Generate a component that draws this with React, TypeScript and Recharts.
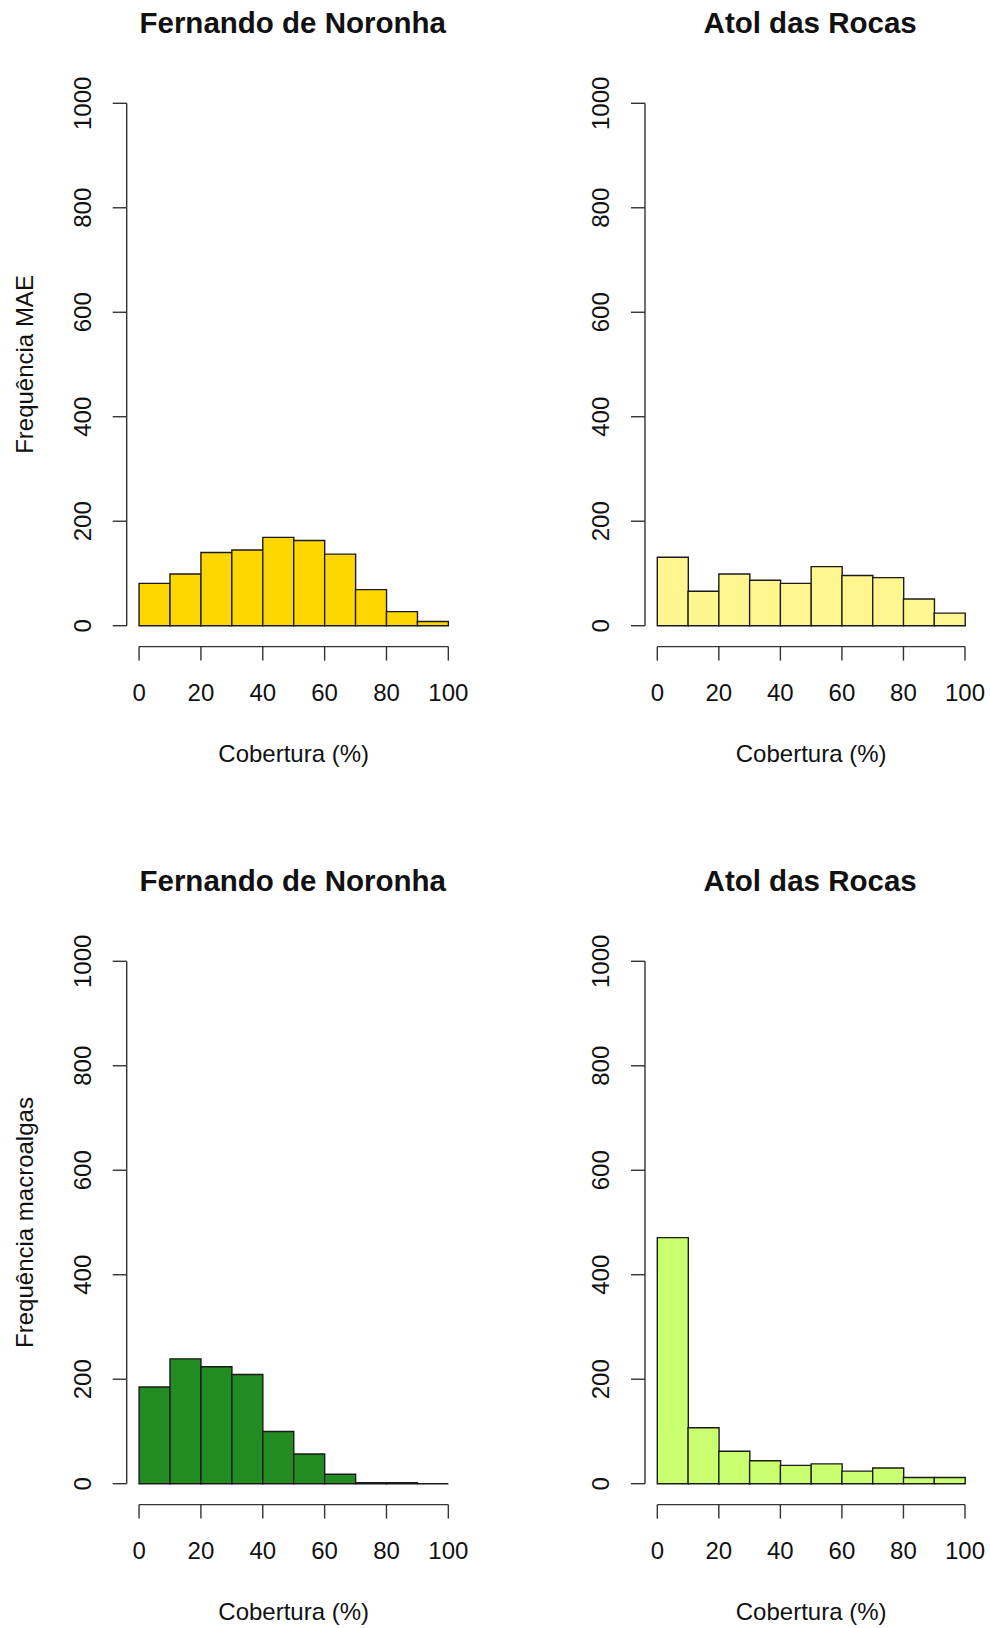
import React from 'react';
import { BarChart, Bar, XAxis, YAxis, ReferenceLine } from 'recharts';

// bins of 10% coverage
const bins = ['0-10', '10-20', '20-30', '30-40', '40-50', '50-60', '60-70', '70-80', '80-90', '90-100'];
const binStart = [0, 10, 20, 30, 40, 50, 60, 70, 80, 90];
const xTicks = [0, 20, 40, 60, 80, 100];
const yTicks = [0, 200, 400, 600, 800, 1000];

const maeNoronha = [81, 99, 140, 145, 169, 163, 137, 69, 27, 8];
const maeRocas = [131, 66, 99, 87, 81, 113, 96, 92, 51, 24];
const algasNoronha = [185, 239, 224, 209, 100, 57, 18, 2, 2, 0];
const algasRocas = [471, 107, 62, 44, 35, 38, 24, 30, 12, 12];

const FONT = '"Liberation Sans", Arial, sans-serif';
const INK = '#111';
const LINE = '#333';

const PANEL_W = 495;
const PANEL_H = 800;
const PLOT_TOP = 82.4;
const PLOT_H = 564.2;
const Y_AXIS_W = 60;
const X_AXIS_H = 60;

interface PanelProps {
  title: string;
  values: number[];
  fill: string;
  yTitle?: string;
  left: number;
  top: number;
  plotLeft: number;
  plotWidth: number;
}

const XTick = (props: any) => {
  const { x, y, payload } = props;
  return (
    <text x={x} y={y + 32} textAnchor="middle" dominantBaseline="central" fontSize={24} fontFamily={FONT} fill={INK}>
      {payload.value}
    </text>
  );
};

const YTick = (props: any) => {
  const { x, y, payload } = props;
  const cx = x - 30;
  return (
    <text
      x={cx}
      y={y}
      transform={`rotate(-90 ${cx} ${y})`}
      textAnchor="middle"
      dominantBaseline="central"
      fontSize={24}
      fontFamily={FONT}
      fill={INK}
    >
      {payload.value}
    </text>
  );
};

const Panel: React.FC<PanelProps> = ({ title, values, fill, yTitle, left, top, plotLeft, plotWidth }) => {
  const data = bins.map((bin, i) => ({ bin, lo: binStart[i], count: values[i] }));
  const pad = (plotWidth * 4) / 108;
  const margin = {
    top: PLOT_TOP,
    left: plotLeft - Y_AXIS_W,
    right: PANEL_W - plotLeft - plotWidth,
    bottom: PANEL_H - PLOT_TOP - PLOT_H - X_AXIS_H,
  };
  const cx = plotLeft + plotWidth / 2;
  const cy = PLOT_TOP + PLOT_H / 2;

  const histShape = (p: any) => (
    <path
      d={`M${p.x},${p.y}h${p.width}v${p.height}h${-p.width}Z`}
      fill={fill}
      stroke="#1a1a1a"
      strokeWidth={1.4}
    />
  );

  return (
    <div style={{ position: 'absolute', left, top, width: PANEL_W, height: PANEL_H }}>
      <BarChart width={PANEL_W} height={PANEL_H} data={data} margin={margin} barCategoryGap={0}>
        <XAxis xAxisId="bins" dataKey="bin" type="category" hide height={0} padding={{ left: pad, right: pad }} />
        <XAxis
          xAxisId="num"
          dataKey="lo"
          type="number"
          scale="linear"
          domain={[-4, 104]}
          allowDataOverflow
          ticks={xTicks}
          interval={0}
          axisLine={false}
          tickSize={14}
          tickMargin={0}
          tickLine={{ stroke: LINE, strokeWidth: 1.4 }}
          tick={<XTick />}
          height={X_AXIS_H}
        />
        <YAxis
          type="number"
          domain={[-40, 1040]}
          allowDataOverflow
          ticks={yTicks}
          interval={0}
          axisLine={false}
          tickSize={14}
          tickMargin={0}
          tickLine={{ stroke: LINE, strokeWidth: 1.4 }}
          tick={<YTick />}
          width={Y_AXIS_W}
        />
        <Bar dataKey="count" xAxisId="bins" fill={fill} shape={histShape} isAnimationActive={false} />
        <ReferenceLine
          xAxisId="num"
          segment={[{ x: -4, y: 0 }, { x: -4, y: 1000 }]}
          stroke={LINE}
          strokeWidth={1.4}
          ifOverflow="visible"
        />
        <ReferenceLine
          xAxisId="num"
          segment={[{ x: 0, y: -40 }, { x: 100, y: -40 }]}
          stroke={LINE}
          strokeWidth={1.4}
          ifOverflow="visible"
        />
      </BarChart>
      <svg
        width={PANEL_W}
        height={PANEL_H}
        style={{ position: 'absolute', left: 0, top: 0, pointerEvents: 'none' }}
      >
        <text x={cx - 1} y={33.3} textAnchor="middle" fontSize={29.5} fontWeight="bold" fontFamily={FONT} fill={INK}>
          {title}
        </text>
        <text x={cx} y={761.7} textAnchor="middle" fontSize={24} fontFamily={FONT} fill={INK}>
          Cobertura (%)
        </text>
        {yTitle && (
          <text
            x={33.3}
            y={cy}
            transform={`rotate(-90 33.3 ${cy})`}
            textAnchor="middle"
            fontSize={24}
            fontFamily={FONT}
            fill={INK}
          >
            {yTitle}
          </text>
        )}
      </svg>
    </div>
  );
};

export default function App() {
  return (
    <div style={{ position: 'absolute', left: 0, top: 0, width: 990, height: 1628, background: '#fff' }}>
      <Panel title="Fernando de Noronha" values={maeNoronha} fill="#FFD700" yTitle="Frequência MAE" left={0} top={0} plotLeft={126.7} plotWidth={334} />
      <Panel title="Atol das Rocas" values={maeRocas} fill="#FFF68F" left={495} top={0} plotLeft={150} plotWidth={332.3} />
      <Panel title="Fernando de Noronha" values={algasNoronha} fill="#228B22" yTitle="Frequência macroalgas" left={0} top={857.5} plotLeft={126.7} plotWidth={334} />
      <Panel title="Atol das Rocas" values={algasRocas} fill="#CAFF70" left={495} top={857.5} plotLeft={150} plotWidth={332.3} />
    </div>
  );
}
